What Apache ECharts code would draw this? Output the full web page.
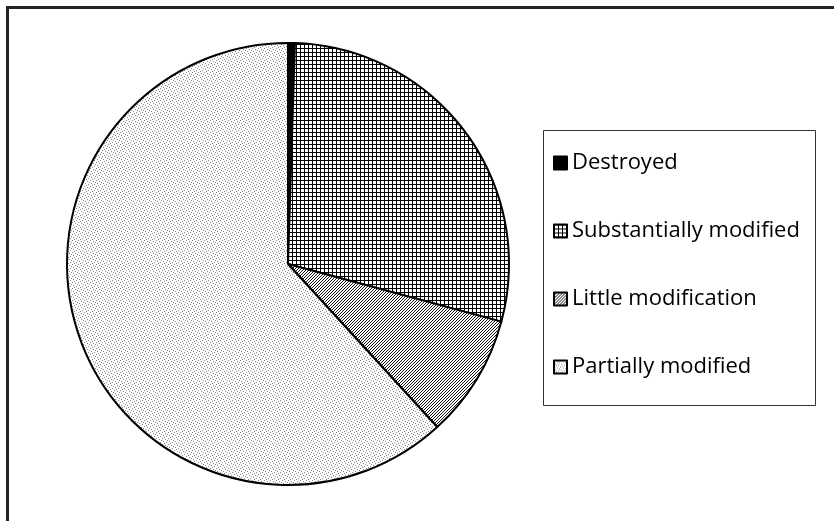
<!DOCTYPE html>
<html><head><meta charset="utf-8">
<script src="https://cdn.jsdelivr.net/npm/echarts@6/dist/echarts.min.js"></script>
<style>html,body{margin:0;padding:0;background:#fff}#c{width:834px;height:521px}</style>
</head><body><div id="c"></div>
<script>
const categories = ['Destroyed', 'Substantially modified', 'Little modification', 'Partially modified'];
const values = [0.5, 28.7, 9.0, 61.8];

function tile(w, h, bg, pixels, fg) {
  const c = document.createElement('canvas');
  c.width = w; c.height = h;
  const g = c.getContext('2d');
  g.fillStyle = bg; g.fillRect(0, 0, w, h);
  g.fillStyle = fg;
  pixels.forEach(p => g.fillRect(p[0], p[1], 1, 1));
  return c;
}
const gridPx = [];
for (let i = 0; i < 4; i++) { gridPx.push([0, i]); gridPx.push([i, 0]); }
const gridTile = tile(4, 4, '#fff', gridPx, '#000');
const diagTile = tile(3, 3, '#fff', [[0, 2], [1, 1], [2, 0]], '#111');
const dotTile = tile(6, 6, '#fff', [[0, 0], [3, 1], [1, 3], [4, 4], [2, 5], [5, 2]], '#8a8a8a');

const fills = [
  '#000',
  { image: gridTile, repeat: 'repeat' },
  { image: diagTile, repeat: 'repeat' },
  { image: dotTile, repeat: 'repeat' }
];

const chart = echarts.init(document.getElementById('c'), null, { renderer: 'canvas' });
chart.setOption({
  animation: false,
  backgroundColor: '#fff',
  graphic: [
    { type: 'rect', silent: true, shape: { x: 7.5, y: 7.5, width: 900, height: 600 },
      style: { fill: 'none', stroke: '#222', lineWidth: 3 } },
    { type: 'rect', silent: true, shape: { x: 543.5, y: 130.5, width: 272, height: 275 },
      style: { fill: 'none', stroke: '#333', lineWidth: 1 } }
  ],
  legend: {
    orient: 'vertical',
    left: 553, top: 151,
    padding: 0,
    itemWidth: 13, itemHeight: 13,
    itemGap: 44,
    icon: 'rect',
    textStyle: { fontFamily: 'Open Sans', fontSize: 22, color: '#000', lineHeight: 24 },
    data: categories
  },
  series: [{
    type: 'pie',
    center: [288, 264],
    radius: 221,
    startAngle: 90,
    clockwise: true,
    label: { show: false },
    labelLine: { show: false },
    emphasis: { disabled: true },
    itemStyle: { borderColor: '#000', borderWidth: 2 },
    data: categories.map((n, i) => ({ name: n, value: values[i], itemStyle: { color: fills[i] } }))
  }]
});
</script></body></html>
